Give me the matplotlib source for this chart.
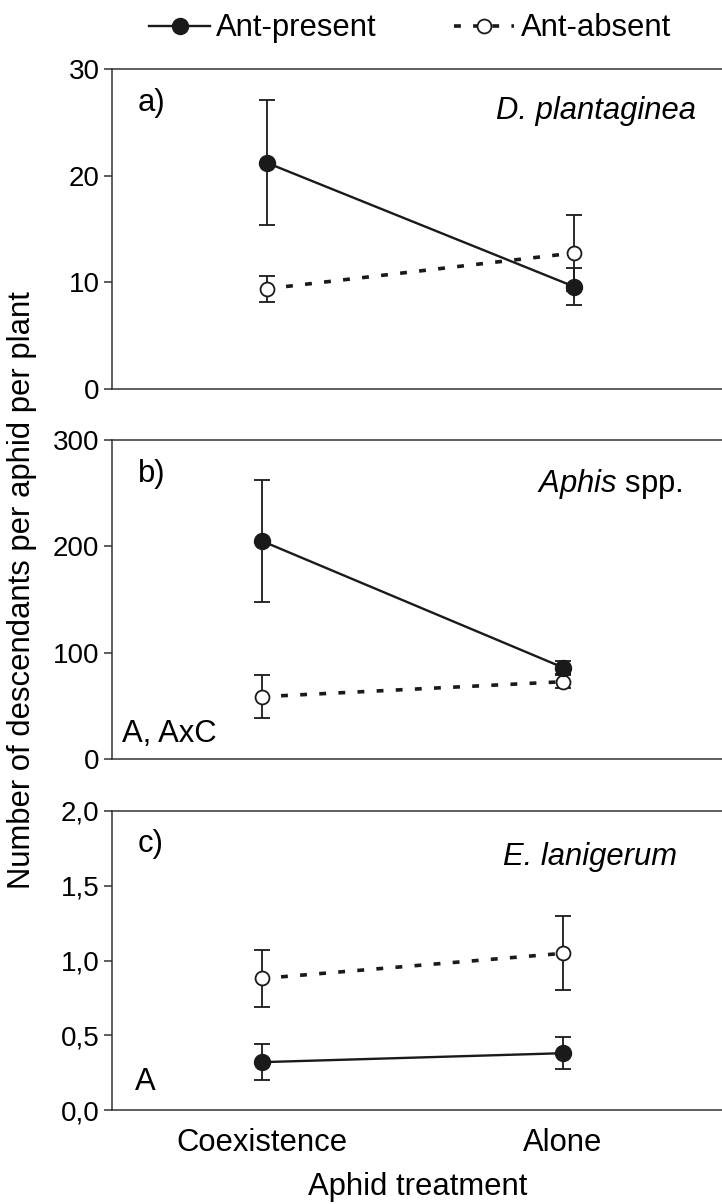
import numpy as np
import matplotlib
matplotlib.use("Agg")
import matplotlib.pyplot as plt
from matplotlib.lines import Line2D
from matplotlib.ticker import FuncFormatter

plt.rcParams['font.family'] = ['Liberation Sans', 'DejaVu Sans']
plt.rcParams['mathtext.fontset'] = 'custom'
plt.rcParams['mathtext.rm'] = 'Liberation Sans'
plt.rcParams['mathtext.it'] = 'Liberation Sans:italic'

treatments = ['Coexistence', 'Alone']

# panel a) D. plantaginea
a_present = [21.2, 9.6]
a_present_se = [5.85, 1.7]
a_absent = [9.4, 12.75]
a_absent_se = [1.2, 3.55]

# panel b) Aphis spp.
b_present = [205, 86]
b_present_se = [57.5, 6.5]
b_absent = [58.6, 72.7]
b_absent_se = [20, 6.3]

# panel c) E. lanigerum
c_present = [0.32, 0.38]
c_present_se = [0.12, 0.105]
c_absent = [0.88, 1.048]
c_absent_se = [0.19, 0.247]

panel_ticks = [[0, 10, 20, 30], [0, 100, 200, 300], [0.0, 0.5, 1.0, 1.5, 2.0]]

FS_TICK = 20
FS = 22.3
INK = '#1a1a1a'
DASH = (0, (1.9, 3.4))

W, H = 722, 1204
fig = plt.figure(figsize=(W / 100, H / 100), dpi=100)

left = 112 / W
width = 1 - left
boxes = [(69, 389), (440, 759), (811, 1110)]
xlims = [(-0.505, 1.482), (-0.498, 1.528), (-0.498, 1.528)]

panels = [
    (a_present, a_present_se, a_absent, a_absent_se),
    (b_present, b_present_se, b_absent, b_absent_se),
    (c_present, c_present_se, c_absent, c_absent_se),
]

x = np.arange(len(treatments))
axes = []
for i, (top, bot) in enumerate(boxes):
    ax = fig.add_axes([left, 1 - bot / H, width, (bot - top) / H])
    pres, pres_se, absn, absn_se = panels[i]

    ax.errorbar(x, absn, yerr=absn_se, color=INK, linestyle=DASH, lw=2.6,
                marker='o', ms=10, mfc='white', mec=INK, mew=1.3,
                ecolor=INK, elinewidth=1.3, capsize=5.5, capthick=1.3, zorder=3)
    ax.errorbar(x, pres, yerr=pres_se, color=INK, linestyle='-', lw=1.7,
                marker='o', ms=11.5, mfc=INK, mec=INK,
                ecolor=INK, elinewidth=1.3, capsize=5.5, capthick=1.3, zorder=4)

    ticks = panel_ticks[i]
    ax.set_ylim(ticks[0], ticks[-1])
    ax.set_yticks(ticks)
    ax.set_xlim(*xlims[i])
    for s in ['left', 'top', 'bottom']:
        ax.spines[s].set_color('#333333')
        ax.spines[s].set_linewidth(1.1)
    ax.spines['right'].set_visible(False)
    ax.tick_params(axis='y', direction='out', length=6, width=1.1,
                   color='#333333', labelsize=FS_TICK, pad=3)
    ax.tick_params(axis='x', length=0, labelsize=FS, pad=13)
    ax.set_xticks(x)
    if i < 2:
        ax.set_xticklabels([])
    else:
        ax.set_xticklabels(treatments)
        ax.yaxis.set_major_formatter(FuncFormatter(lambda v, p: f'{v:.1f}'.replace('.', ',')))
    axes.append(ax)

ax_a, ax_b, ax_c = axes
for ax, lab in zip(axes, ['a)', 'b)', 'c)']):
    ax.text(0.042, 0.94, lab, transform=ax.transAxes, fontsize=FS, va='top', ha='left')

ax_a.text(0.957, 0.915, 'D. plantaginea', transform=ax_a.transAxes, fontsize=FS,
          style='italic', va='top', ha='right')
ax_b.text(0.935, 0.915, r'$\mathit{Aphis}$ spp.', transform=ax_b.transAxes, fontsize=FS,
          va='top', ha='right')
ax_c.text(0.926, 0.895, 'E. lanigerum', transform=ax_c.transAxes, fontsize=FS,
          style='italic', va='top', ha='right')
ax_b.text(0.016, 0.03, 'A, AxC', transform=ax_b.transAxes, fontsize=FS, va='bottom', ha='left')
ax_c.text(0.038, 0.045, 'A', transform=ax_c.transAxes, fontsize=FS, va='bottom', ha='left')

# x label placed directly so it stays inside the canvas
fig.text(0.578, 2 / H, 'Aphid treatment', fontsize=FS, ha='center', va='bottom')
fig.text(22 / W, 0.51, 'Number of descendants per aphid per plant', rotation=90,
         fontsize=FS, va='center', ha='center')

handles = [
    Line2D([], [], color=INK, lw=1.7, marker='o', ms=11.5, mfc=INK, mec=INK),
    Line2D([], [], color=INK, lw=2.6, linestyle=DASH, marker='o', ms=10,
           mfc='white', mec=INK, mew=1.3),
]
fig.legend(handles, ['Ant-present', 'Ant-absent'], loc='upper center',
           bbox_to_anchor=(0.568, 1.012), ncol=2, frameon=False, fontsize=FS,
           handlelength=1.95, columnspacing=2.5, handletextpad=0.2)

fig.savefig('out.png', dpi=100)
